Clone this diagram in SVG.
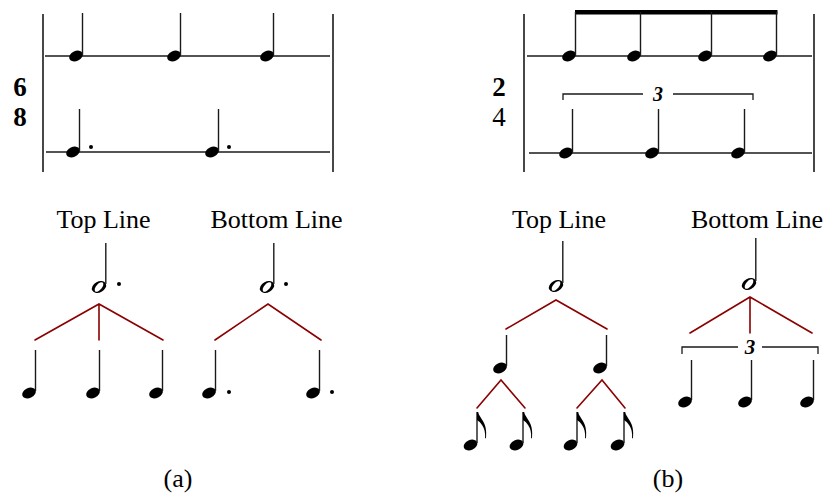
<svg xmlns="http://www.w3.org/2000/svg" xmlns:xlink="http://www.w3.org/1999/xlink" width="827" height="499" viewBox="0 0 827 499">
<style>
.bar{stroke:#1a1a1a;stroke-width:1.6;fill:none}
.staff{stroke:#1a1a1a;stroke-width:1.3;fill:none}
.stem{stroke:#1a1a1a;stroke-width:1.4;fill:none}
.ink{fill:#000}
.br{stroke:#1a1a1a;stroke-width:1.3;fill:none}
.tree{stroke:#8b0000;stroke-width:1.6;fill:none;stroke-linecap:round}
.lbl{font-family:"Liberation Serif","Times New Roman",serif;font-size:26px;fill:#000;text-anchor:middle}
.ts{font-family:"Liberation Serif","Times New Roman",serif;font-size:27px;fill:#000;text-anchor:middle}
.tup{font-family:"Liberation Serif","Times New Roman",serif;font-weight:bold;font-style:italic;fill:#000;text-anchor:middle}
</style>
<defs>
<ellipse id="qh" rx="7.2" ry="5" transform="rotate(-25)" fill="#000"/>
<path id="hh" fill="#000" fill-rule="evenodd" transform="rotate(-28)" d="M -7.6 0 A 7.6 5.4 0 1 1 7.6 0 A 7.6 5.4 0 1 1 -7.6 0 Z M -5.38 2.17 A 5.8 2.9 -22 1 0 5.38 -2.17 A 5.8 2.9 -22 1 0 -5.38 2.17 Z"/>
<path id="flag" fill="#000" d="M 0 0 L 1.2 0 C 2 6 11 10 9 26 C 8.7 26.5 8.2 26.5 8.1 26 C 9 15 3 10 0 8 Z"/>
</defs>

<g id="staff-a">
<line class="bar" x1="43" y1="14" x2="43" y2="172"/>
<line class="bar" x1="333" y1="14" x2="333" y2="172"/>
<line class="staff" x1="45" y1="56" x2="330" y2="56"/>
<line class="staff" x1="46" y1="152" x2="330" y2="152"/>
<text class="ts" x="20" y="96" font-weight="bold">6</text>
<text class="ts" x="20" y="126" font-weight="bold">8</text>
<use href="#qh" x="76" y="56"/><line class="stem" x1="82.5" y1="13" x2="82.5" y2="55"/>
<use href="#qh" x="174" y="56"/><line class="stem" x1="180.5" y1="13" x2="180.5" y2="55"/>
<use href="#qh" x="267" y="56"/><line class="stem" x1="273.5" y1="13" x2="273.5" y2="55"/>
<use href="#qh" x="73" y="152"/><line class="stem" x1="79.5" y1="109" x2="79.5" y2="151"/>
<circle class="ink" cx="91" cy="147" r="2"/>
<use href="#qh" x="212" y="152"/><line class="stem" x1="218.5" y1="109" x2="218.5" y2="151"/>
<circle class="ink" cx="229" cy="147" r="2"/>
</g>

<g id="staff-b">
<line class="bar" x1="524" y1="14" x2="524" y2="172"/>
<line class="bar" x1="814" y1="14" x2="814" y2="172"/>
<line class="staff" x1="527" y1="56" x2="812" y2="56"/>
<line class="staff" x1="529" y1="153" x2="812" y2="153"/>
<text class="ts" x="499" y="96" font-weight="bold">2</text>
<text class="ts" x="499" y="126">4</text>
<rect x="575" y="10" width="202.5" height="4.5" fill="#000"/>
<use href="#qh" x="569" y="56"/><line class="stem" x1="575.5" y1="12" x2="575.5" y2="55"/>
<use href="#qh" x="634" y="56"/><line class="stem" x1="640.5" y1="12" x2="640.5" y2="55"/>
<use href="#qh" x="705" y="56"/><line class="stem" x1="711.5" y1="12" x2="711.5" y2="55"/>
<use href="#qh" x="770" y="56"/><line class="stem" x1="776.5" y1="12" x2="776.5" y2="55"/>
<path class="br" d="M563 100 V94 H643 M673 94 H753 V100"/>
<text class="tup" x="658" y="101" font-size="20">3</text>
<use href="#qh" x="566" y="153"/><line class="stem" x1="572.5" y1="109" x2="572.5" y2="152"/>
<use href="#qh" x="652" y="153"/><line class="stem" x1="658.5" y1="109" x2="658.5" y2="152"/>
<use href="#qh" x="738" y="153"/><line class="stem" x1="744.5" y1="109" x2="744.5" y2="152"/>
</g>

<g id="tree-a-top">
<text class="lbl" x="103.5" y="228">Top Line</text>
<use href="#hh" x="99" y="287"/><line class="stem" x1="105.8" y1="243" x2="105.8" y2="284"/>
<circle class="ink" cx="119" cy="284" r="2"/>
<use href="#qh" x="29" y="393"/><line class="stem" x1="35.5" y1="350" x2="35.5" y2="391"/>
<use href="#qh" x="93" y="393"/><line class="stem" x1="99.5" y1="350" x2="99.5" y2="391"/>
<use href="#qh" x="156" y="393"/><line class="stem" x1="162.5" y1="350" x2="162.5" y2="391"/>
</g>

<g id="tree-a-bottom">
<text class="lbl" x="276.5" y="228">Bottom Line</text>
<use href="#hh" x="267" y="287"/><line class="stem" x1="273.8" y1="243" x2="273.8" y2="284"/>
<circle class="ink" cx="286" cy="284" r="2"/>
<use href="#qh" x="209" y="393"/><line class="stem" x1="215.5" y1="350" x2="215.5" y2="391"/>
<circle class="ink" cx="229" cy="392" r="2"/>
<use href="#qh" x="313" y="393"/><line class="stem" x1="319.5" y1="350" x2="319.5" y2="391"/>
<circle class="ink" cx="332" cy="392" r="2"/>
</g>

<g id="tree-b-top">
<text class="lbl" x="559" y="228">Top Line</text>
<use href="#hh" x="556" y="286"/><line class="stem" x1="562.8" y1="241" x2="562.8" y2="283"/>
<use href="#qh" x="500" y="368"/><line class="stem" x1="506.5" y1="335" x2="506.5" y2="366"/>
<use href="#qh" x="600" y="368"/><line class="stem" x1="606.5" y1="335" x2="606.5" y2="366"/>
<use href="#qh" x="470.5" y="445"/><line class="stem" x1="477" y1="412" x2="477" y2="443"/><use href="#flag" x="477" y="412"/>
<use href="#qh" x="516.5" y="445"/><line class="stem" x1="523" y1="412" x2="523" y2="443"/><use href="#flag" x="523" y="412"/>
<use href="#qh" x="570.5" y="445"/><line class="stem" x1="577" y1="412" x2="577" y2="443"/><use href="#flag" x="577" y="412"/>
<use href="#qh" x="617.5" y="445"/><line class="stem" x1="624" y1="412" x2="624" y2="443"/><use href="#flag" x="624" y="412"/>
</g>

<g id="tree-b-bottom">
<text class="lbl" x="757" y="228">Bottom Line</text>
<use href="#hh" x="749" y="284"/><line class="stem" x1="755.8" y1="238" x2="755.8" y2="281"/>
<path class="br" d="M682 354 V347 H738 M762 347 H818 V354"/>
<text class="tup" x="750" y="354" font-size="21">3</text>
<use href="#qh" x="685" y="402"/><line class="stem" x1="691.5" y1="360" x2="691.5" y2="400"/>
<use href="#qh" x="745" y="402"/><line class="stem" x1="751.5" y1="360" x2="751.5" y2="400"/>
<use href="#qh" x="807" y="402"/><line class="stem" x1="813.5" y1="360" x2="813.5" y2="400"/>
</g>

<g id="connectors">
<path class="tree" d="M35 340 L99 304 L163 340 M99 304 V340"/>
<path class="tree" d="M215 340 L268 304 L321 340"/>
<path class="tree" d="M506 329 L556 300 L607 329"/>
<path class="tree" d="M477 408 L501 380 L525 408 M577 408 L602 380 L625 408"/>
<path class="tree" d="M690 333 L750 297 L812 333 M750 297 V333"/>
</g>

<g id="captions">
<text class="lbl" x="178" y="487">(a)</text>
<text class="lbl" x="668" y="487">(b)</text>
</g>
</svg>
